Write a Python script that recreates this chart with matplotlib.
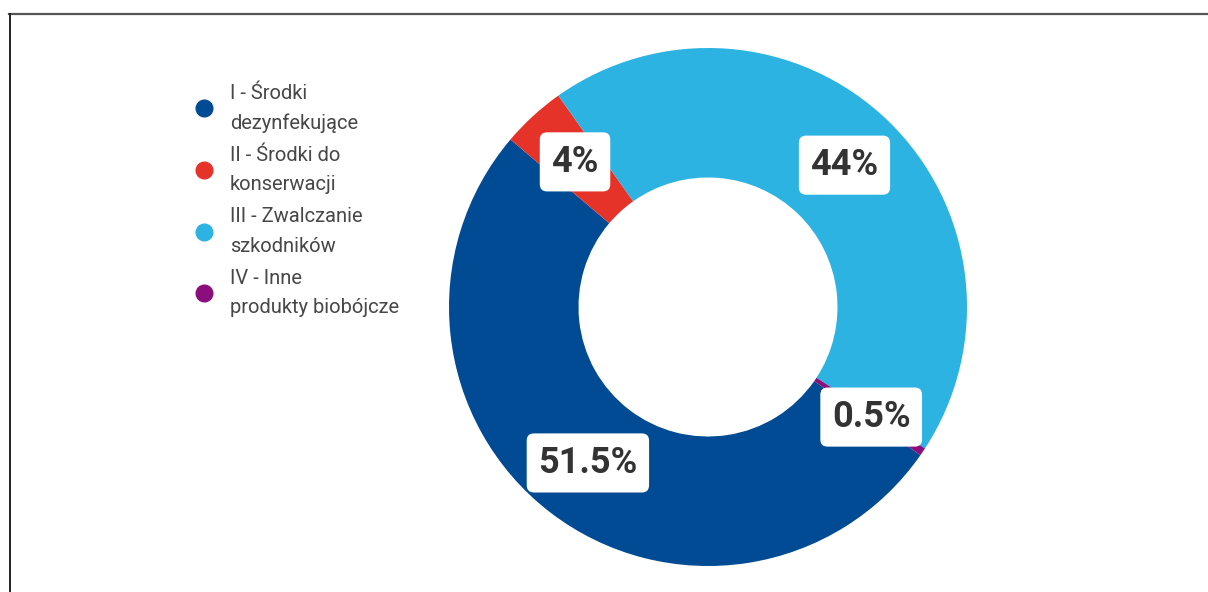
import matplotlib.pyplot as plt
from matplotlib.lines import Line2D
import numpy as np

# data
labels = ['I - Środki\ndezynfekujące', 'II - Środki do\nkonserwacji',
          'III - Zwalczanie\nszkodników', 'IV - Inne\nprodukty biobójcze']
shares = [51.5, 4.0, 44.0, 0.5]
pct_text = ['51.5%', '4%', '44%', '0.5%']
colors = ['#004b93', '#e5332a', '#2db3e1', '#8a0f7d']

W, H = 1208, 592
fig = plt.figure(figsize=(W / 100, H / 100), dpi=100)

# donut centred at (708, 307) px, outer radius ~259 px
r_px = 259
lim = 1.1
size = 2 * lim * r_px
cx, cy = 708, H - 307
ax = fig.add_axes([(cx - size / 2) / W, (cy - size / 2) / H, size / W, size / H])

wedges, _ = ax.pie(shares, colors=colors, startangle=-34.9, counterclock=False,
                   radius=1, wedgeprops=dict(width=0.5, linewidth=0))

# percentage labels in the middle of the ring
for w, t in zip(wedges, pct_text):
    ang = np.deg2rad((w.theta1 + w.theta2) / 2)
    ax.text(0.76 * np.cos(ang), 0.76 * np.sin(ang), t, ha='center', va='center',
            fontsize=26, fontweight='bold', family='Roboto', color='#333333',
            bbox=dict(boxstyle='round,pad=0.32,rounding_size=0.2', fc='white', ec='none'))

ax.set_xlim(-lim, lim)
ax.set_ylim(-lim, lim)
ax.set_aspect('equal')
ax.axis('off')

# legend drawn by hand: dot + two-line label
for i, (lab, col) in enumerate(zip(labels, colors)):
    y = 1 - (108.5 + i * 61.5) / H
    fig.add_artist(Line2D([204 / W], [y], marker='o', markersize=12, color=col,
                          linestyle='none', transform=fig.transFigure))
    fig.text(230 / W, y, lab, ha='left', va='center', fontsize=14.5,
             family='Roboto', fontweight='normal', color='#474747', linespacing=1.72)

# frame lines
fig.add_artist(Line2D([9 / W, 1], [1 - 13.5 / H, 1 - 13.5 / H], color='#555555',
                      lw=1.6, transform=fig.transFigure))
fig.add_artist(Line2D([9.5 / W, 9.5 / W], [0, 1 - 13.5 / H], color='#222222',
                      lw=1.4, transform=fig.transFigure))

fig.savefig('out.png', dpi=100)
